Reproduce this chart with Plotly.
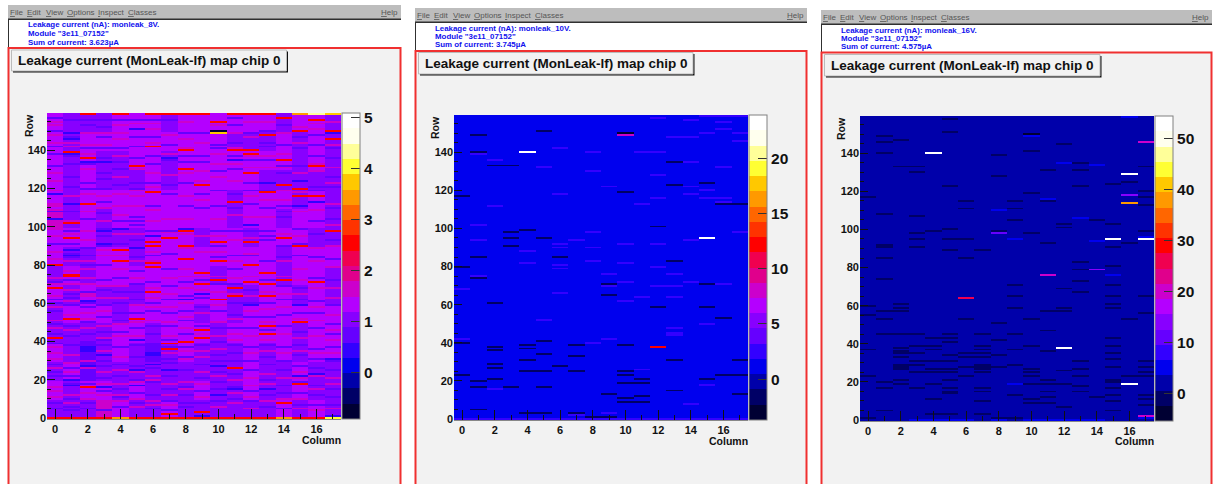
import plotly.graph_objects as go

W, H = 1214, 484
N_COLS, N_ROWS = 18, 160

TITLE = "Leakage current (MonLeak-lf) map chip 0"
MENU_ITEMS = ["<u>F</u>ile", "<u>E</u>dit", "<u>V</u>iew", "<u>O</u>ptions", "<u>I</u>nspect", "<u>C</u>lasses"]
HELP_ITEM = "<u>H</u>elp"
MODULE = 'Module "3e11_07152"'
VOLTAGES = ["monleak_8V.", "monleak_10V.", "monleak_16V."]
SUMS = ["3.623", "3.745", "4.575"]

PALETTE = ["#000033", "#000066", "#0000aa", "#0000ee", "#3300ff", "#6600ff", "#8800ff",
           "#b400ff", "#cc00cc", "#e0008c", "#f00050", "#ff0000", "#ff3300", "#ff6600",
           "#ff9900", "#ffc800", "#ffff33", "#ffff99", "#ffffee", "#ffffff"]

# ---- Panel 1 (8 V): per-column estimates over 10-row bands, top band first, then stripes
# read per column. This is an estimate of the striped texture, not an exact cell-by-cell read.
P1_BANDS = [
    [1.4,1.0,1.1,0.9,1.2,1.2,1.2,1.0,1.3,1.3,1.2,1.3,1.2,1.2,1.0,1.2,1.3,1.0],
    [1.4,1.0,1.2,1.2,1.3,1.4,1.3,1.2,1.3,1.4,1.2,1.1,1.0,1.1,1.3,1.1,1.3,1.1],
    [1.2,1.1,1.3,0.9,1.1,1.2,1.2,1.1,1.3,1.4,1.3,1.2,1.2,1.2,1.2,1.0,1.2,1.0],
    [1.3,1.0,1.2,1.0,1.1,1.1,1.3,1.1,1.2,1.3,1.3,1.2,1.3,1.1,1.0,1.1,1.1,1.0],
    [1.2,1.1,1.3,1.2,1.2,1.3,1.4,1.2,1.2,1.3,1.2,1.1,1.3,1.2,1.4,1.0,1.2,1.0],
    [1.6,1.0,1.3,1.0,1.4,1.3,1.3,1.2,1.2,1.3,1.3,1.0,1.2,1.3,1.0,1.3,1.2,1.1],
    [1.3,1.2,1.2,0.9,1.1,0.9,1.4,1.4,1.4,1.0,1.3,1.2,1.1,1.3,1.2,1.2,1.1,1.1],
    [1.3,1.0,0.9,1.3,1.2,1.1,1.3,1.2,1.2,1.2,1.2,1.2,1.3,1.2,1.1,1.3,1.3,1.2],
    [1.1,1.3,1.1,1.3,1.2,1.3,1.2,1.3,1.2,1.2,1.1,1.2,1.3,1.3,1.1,1.2,1.3,1.1],
    [1.3,1.1,1.4,1.1,1.0,0.9,1.3,1.3,1.2,1.2,1.2,1.1,1.1,1.4,1.3,1.0,1.2,1.0],
    [1.0,1.3,1.3,1.2,1.1,1.2,1.3,1.3,1.2,1.1,1.3,1.1,1.2,1.3,1.3,1.2,1.3,1.2],
    [1.0,1.0,1.1,1.1,1.2,1.2,1.1,1.3,1.3,1.2,1.1,1.2,1.3,1.2,1.3,1.0,1.3,1.2],
    [1.3,1.1,0.8,0.9,1.3,1.0,0.8,1.0,1.2,1.0,1.0,1.1,1.3,1.0,1.2,1.1,1.2,1.2],
    [1.1,1.2,0.8,1.0,1.1,1.1,1.0,0.9,1.1,1.1,0.9,1.0,1.3,1.1,1.0,1.2,1.1,1.0],
    [1.4,0.9,1.3,1.3,1.1,1.3,1.0,1.0,1.0,1.2,1.0,1.0,1.2,1.0,1.1,1.2,1.1,1.0],
    [1.1,1.1,1.1,1.5,1.2,1.1,1.0,1.2,0.9,1.0,1.1,1.0,1.1,1.0,1.3,1.0,1.2,0.9],
]
P1_VIOLET_ROWS = [
    [157,150,142,138,132,117,108,91,71,62,60,56,49,44,39,28,24,22,8,5],
    [156,149,147,137,133,126,121,112,108,98,91,86,84,72,65,63,59,48,43,38,26,22,18,10,6,4],
    [156,153,141,133,123,120,104,89,85,80,66,60,58,50,44,40,33,31,22,18,8,5],
    [156,152,147,141,136,128,125,120,113,107,99,95,90,80,72,67,59,53,45,41,38,30,27,21,14,4],
    [156,141,134,130,122,103,91,73,66,60,55,51,45,37,28,22,15,11,6],
    [156,147,142,136,123,120,105,103,101,93,89,84,77,70,66,62,55,47,38,32,27,20,13,8],
    [156,147,137,133,123,111,98,85,71,60,56,48,44,37,30,26,19,12,5],
    [156,143,135,122,117,98,86,78,69,62,55,48,41,37,31,29,22,15,9,4],
    [149,137,134,123,111,90,71,64,56,51,44,37,32,25,16,12,8,6],
    [149,137,134,117,110,72,63,58,48,38,28,21,14,8],
    [143,141,129,119,111,98,90,84,70,56,47,40,33,30,24,19,15,9],
    [157,153,144,137,130,117,110,98,85,78,70,60,54,47,38,34,30,23,16,10],
    [149,135,123,119,112,98,85,67,60,53,47,37,30,25,14,9],
    [150,144,142,135,123,119,110,98,95,93,82,72,60,53,46,38,32,28,20,12,6],
    [153,143,132,128,111,108,105,90,84,69,62,54,48,37,30,25,17,13,5],
    [147,141,132,124,111,99,91,85,68,62,55,45,38,33,27,19,13,7],
    [148,143,137,121,119,103,96,84,73,61,55,47,36,31,26,17,12,7],
    [149,141,136,126,121,110,104,93,83,72,59,49,44,37,30,25,15,11,7],
]
P1_MAGENTA_ROWS = [
    [155,153,148,144,128,124,119,112,111,104,99,95,87,83,73,70,64,58,51,47,37,34,31,26,16,14,11],
    [144,142,116,103,96,82,77,70,67,61,54,46,33,29,24,12,8],
    [149,143,138,130,117,108,98,93,82,78,73,70,65,64,55,52,47,30,26,13,10],
    [149,143,116,110,103,88,85,69,63,56,48,42,35,24,18,12],
    [153,149,146,137,126,117,111,106,96,85,78,69,63,49,43,32,25,18,12,9],
    [154,130,119,116,111,96,82,73,59,50,43,24,19,10,6],
    [154,151,144,128,121,109,103,87,82,68,63,58,51,22,20,9,7],
    [148,138,127,104,97,73,65,58,50,43,34,25,18,12,7],
    [155,146,141,128,116,104,96,89,78,74,68,60,53,47,35,31,19,15],
    [144,129,124,114,95,87,74,67,55,44,35,32,24,18,11],
    [153,138,133,126,104,95,87,74,66,59,50,43,36,22,12,6],
    [149,141,133,124,106,93,82,73,65,52,44,41,20,13,8],
    [155,147,137,131,116,105,94,86,74,64,56,43,34,21,17,11,5],
    [155,137,131,114,105,66,57,50,41,35,23,18,9],
    [149,138,131,119,114,96,82,74,65,58,44,34,21,10],
    [152,144,128,118,108,95,78,72,65,52,42,35,24,21,10,5],
    [154,151,133,129,109,89,82,68,58,51,43,34,22,15,4],
    [155,143,131,123,112,101,90,79,68,63,54,46,41,34,21,18,5],
]
P1_RED = [(2,159),(4,159),(6,159),(7,159),(8,159),(9,159),(1,139),(2,136),(6,142),(8,140),
          (5,132),(8,130),(9,122),(6,118),(2,112),(1,102),(1,94),(8,98),(7,94),(6,92),(6,90),
          (8,90),(4,88),(4,82),(8,83),(6,81),(6,79),(0,80),(1,75),(9,76),(11,159),(12,159),
          (13,159),(14,157),(16,156),(17,150),(15,150),(13,148),(17,146),(11,140),(12,140),
          (12,138),(14,135),(16,132),(12,128),(14,122),(15,120),(13,118),(15,116),(16,116),
          (11,113),(17,98),(10,92),(12,92),(14,94),(15,90),(10,82),(12,80),(13,76),(0,68),
          (1,74),(6,66),(9,70),(1,52),(5,52),(0,42),(9,42),(9,46),(8,40),(7,39),(2,16),(9,3),
          (7,2),(7,36),(10,62),(10,72),(11,68),(11,26),(11,64),(12,71),(13,70),(13,64),
          (13,76),(13,44),(13,48),(14,72),(15,50),(15,18),(16,71),(14,8),(10,155),(2,0),
          (0,0),(1,0),(3,0),(5,0),(6,0),(7,0),(8,0),(9,0),(10,0),(11,0),(12,0),(13,0),(14,0),
          (15,0),(16,0)]
P1_BLUE = [(1,149),(1,146),(5,151),(3,134),(2,134),(4,99),(3,98),(0,117),(1,112),(1,88),(1,85),
           (3,91),(5,89),(6,95),(0,104),(8,99),(7,136),(1,138),(12,101),(11,135),(15,124),
           (16,113),(13,123),(17,149),(15,111),(1,20),(1,17),(2,37),(2,36),(2,35),(2,61),
           (2,27),(3,16),(5,25),(5,41),(5,17),(6,33),(6,34),(6,28),(7,25),(8,62),(9,65),(3,33),
           (11,15),(10,27),(12,59),(15,59),(15,22),(16,23),(17,31),(13,15),(10,12)]
P1_SPECIAL = [(10,150,-0.7),(10,149,3.7),(15,159,3.4),(16,159,4.4),(17,159,3.7),(17,0,4.0),
              (4,0,3.4),(14,0,3.4),(9,1,0.4),(17,1,0.5)]

# ---- Panel 2 (10 V)
P2_DARK = [(1,149),(1,140),(2,133),(3,133),(3,98),(3,95),(3,91),(4,99),(5,151),(5,95),(6,85),
           (1,85),(1,74),(0,117),(0,80),(9,71),(10,119),(13,135),(13,123),(15,124),(12,101),
           (13,83),(15,71),(16,113),(17,113),(2,61),(12,59),(15,59),(16,53),(9,65),(5,41),
           (0,40),(2,38),(2,36),(4,39),(4,37),(7,39),(10,39),(5,34),(7,33),(4,31),(13,31),
           (17,31),(2,29),(2,27),(6,28),(4,25),(5,25),(7,25),(10,25),(0,23),(10,23),(2,21),
           (11,21),(15,21),(16,23),(17,23),(1,20),(1,17),(3,17),(5,17),(10,19),(11,19),(13,15),
           (9,13),(17,13),(10,11),(11,12),(10,9),(11,9),(1,5),(4,3),(5,3),(7,3),(8,1),(9,1)]
P2_FAINT = [(2,136),(1,139),(5,132),(6,142),(8,140),(8,130),(9,122),(6,118),(2,112),(1,102),
            (1,94),(6,92),(6,90),(7,94),(8,98),(8,90),(4,88),(4,82),(6,81),(6,79),(8,83),
            (10,92),(10,82),(12,92),(12,80),(14,94),(17,98),(9,76),(10,72),(13,76),(1,75),
            (14,72),(16,71),(12,70),(13,70),(9,70),(0,68),(12,158),(14,157),(16,156),(16,152),
            (15,150),(17,150),(17,146),(13,148),(14,148),(11,140),(12,140),(14,135),(16,132),
            (12,128),(14,122),(15,120),(12,116),(14,118),(15,116),(16,116),(16,114),(11,113),
            (15,159),(16,159),(17,159),(6,66),(10,62),(11,64),(13,64),(5,52),(13,48),(15,50),
            (9,42),(13,44),(13,45),(0,42),(8,40),(11,26),(15,18),(2,16),(14,8),(9,3),(7,2),
            (3,0),(4,0),(5,0),(6,0),(7,0),(8,0),(9,0),(10,0),(11,0),(12,0),(13,0),(14,0),(15,0),
            (16,0),(17,0),(0,0),(1,0),(2,0)]
P2_SPECIAL = [(4,140,23.0),(15,95,23.0),(10,149,8.0),(10,150,-3.0),(12,38,12.0)]

# ---- Panel 3 (16 V)
P3_DARK = [(5,158),(1,149),(1,146),(2,147),(1,140),(5,151),(10,141),(12,145),(2,133),(3,133),
           (3,130),(8,139),(8,128),(11,131),(13,135),(13,131),(17,133),(15,124),(16,125),
           (13,123),(5,123),(0,117),(6,115),(6,111),(9,115),(9,111),(9,105),(10,119),(11,115),
           (17,120),(17,117),(17,113),(1,108),(3,107),(3,98),(4,99),(5,100),(3,95),(5,95),
           (6,95),(3,91),(1,92),(1,91),(5,89),(7,89),(6,85),(1,85),(8,99),(10,98),(11,93),
           (12,103),(12,101),(14,105),(15,103),(15,91),(16,93),(17,99),(13,83),(13,79),(15,81),
           (13,73),(15,71),(9,71),(12,69),(1,74),(9,65),(15,65),(17,65),(13,67),(0,60),(2,61),
           (2,59),(9,59),(12,59),(15,61),(15,59),(1,57),(2,57),(11,57),(12,57),(0,55),(17,56),
           (1,53),(6,53),(10,53),(16,53),(8,51),(11,47),(1,45),(2,45),(3,45),(5,45),(7,45),
           (9,45),(4,43),(5,43),(5,41),(7,39),(3,39),(4,39),(8,42),(10,39),(15,43),(15,39),
           (0,37),(4,37),(7,37),(9,37),(2,38),(2,36),(2,35),(11,36),(3,35),(6,35),(7,35),(15,35),
           (5,34),(8,34),(2,33),(6,33),(7,33),(15,32),(3,31),(4,31),(5,31),(13,31),(17,31),
           (3,29),(9,29),(2,29),(2,28),(2,27),(6,28),(7,28),(7,29),(7,27),(8,28),(15,28),(17,28),
           (4,27),(5,27),(10,27),(13,27),(12,26),(3,25),(4,25),(5,25),(7,25),(10,25),(17,25),
           (0,23),(6,23),(10,23),(13,23),(16,23),(17,23),(5,21),(2,21),(11,21),(15,21),(15,20),
           (1,20),(2,19),(4,19),(10,19),(11,19),(12,19),(13,18),(1,17),(3,17),(5,17),(7,17),
           (15,17),(5,15),(5,14),(7,15),(11,15),(13,15),(9,13),(15,13),(17,13),(11,12),(14,12),
           (4,11),(10,11),(17,11),(7,10),(15,10),(10,9),(11,9),(17,8),(12,7),(1,5),(15,5),(4,3),
           (5,3),(7,3),(0,1),(8,1),(9,1)]
P3_BLUE = [(16,159),(10,149),(12,135),(14,134),(11,116),(8,110),(13,106),(9,95),(14,94),(15,76),
           (17,96),(9,19),(3,0),(4,0),(5,0),(6,0),(8,0),(10,0),(11,0),(12,0),(13,0),(14,0),(17,1)]
P3_SPECIAL = [(4,140,53.0),(16,129,53.0),(15,95,53.0),(17,95,53.0),(12,38,53.0),(16,19,53.0),
              (10,150,-4.0),(16,118,14.0),(8,98,11.0),(14,79,14.0),(17,146,20.0),(11,76,20.0),
              (16,114,38.0),(6,64,26.0),(17,2,20.0)]

ZRANGES = [(-0.92, 5.08), (-3.7, 23.9), (-5.3, 54.5)]
COLORBAR_TICKS = [[0, 1, 2, 3, 4, 5], [0, 5, 10, 15, 20], [0, 10, 20, 30, 40, 50]]
X_TICKS = [0, 2, 4, 6, 8, 10, 12, 14, 16]
Y_TICKS = [0, 20, 40, 60, 80, 100, 120, 140]
BASES = [None, 1.2, 2.0]


def grid(base):
    return [[base] * N_COLS for _ in range(N_ROWS)]


def put(z, cells, value):
    for c, r in cells:
        z[r][c] = value


z1 = [[P1_BANDS[15 - r // 10][c] for c in range(N_COLS)] for r in range(N_ROWS)]
for c, rows in enumerate(P1_VIOLET_ROWS):
    put(z1, [(c, r) for r in rows], 0.8)
for c, rows in enumerate(P1_MAGENTA_ROWS):
    put(z1, [(c, r) for r in rows], 1.65)
put(z1, P1_BLUE, 0.45)
put(z1, P1_RED, 2.5)
for c, r, v in P1_SPECIAL:
    z1[r][c] = v

z2 = grid(BASES[1])
put(z2, P2_FAINT, 2.5)
put(z2, P2_DARK, -1.5)
for c, r, v in P2_SPECIAL:
    z2[r][c] = v

z3 = grid(BASES[2])
put(z3, P3_BLUE, 5.0)
put(z3, P3_DARK, -1.0)
for c, r, v in P3_SPECIAL:
    z3[r][c] = v

MAPS = [z1, z2, z3]

# pixel layout of each window
PANELS = [
    dict(win=(8, 401), menu=(5, 19), head=(20, 48), frame=48, box=(11.5, 286.5, 50, 71),
         hx=27.5, hy=(25, 34, 42), plot=(47, 341, 113, 419), cb=(342, 360), row_x=29, col_y=440),
    dict(win=(415, 807), menu=(8, 22), head=(23, 51), frame=51, box=(418.5, 693, 52.5, 74),
         hx=434.5, hy=(28, 36.7, 45), plot=(454, 748, 115, 420), cb=(749, 767), row_x=435, col_y=441),
    dict(win=(821, 1212), menu=(10, 24), head=(25, 52), frame=52.5, box=(824.5, 1100, 54.5, 76),
         hx=840.5, hy=(30, 38.7, 46.7), plot=(860, 1154, 116, 421), cb=(1155, 1173), row_x=841, col_y=441),
]


def px(x):
    return x / W


def py(y):
    return 1 - y / H


FONT = "Liberation Sans"
PAD = 2  # annotation text inset
fig = go.Figure()
shapes, annotations = [], []


def rect(x0, x1, y0, y1, fill=None, line=None, lw=1):
    shapes.append(dict(type="rect", xref="paper", yref="paper", x0=px(x0), x1=px(x1),
                       y0=py(y1), y1=py(y0), fillcolor=fill or "rgba(0,0,0,0)",
                       line=dict(color=line or "rgba(0,0,0,0)", width=lw if line else 0),
                       layer="below"))


def text(x, y, s, size, color, weight=400, anchor="left", angle=0):
    xx = x - PAD if anchor == "left" else x + PAD if anchor == "right" else x
    annotations.append(dict(xref="paper", yref="paper", x=px(xx), y=py(y), text=s, showarrow=False,
                            xanchor=anchor, yanchor="middle", textangle=angle,
                            font=dict(family=FONT, size=size, color=color, weight=weight)))


for i, p in enumerate(PANELS):
    ax = "" if i == 0 else str(i + 1)
    wx0, wx1 = p["win"]
    x0, x1, y0, y1 = p["plot"]
    # window chrome
    rect(wx0, wx1, p["menu"][0], p["menu"][1], fill="#bdbdbd")
    rect(wx0, wx1, p["menu"][1] - 0.5, p["menu"][1] + 1, fill="#303030")
    rect(wx0 + 1, wx1, p["head"][0], p["head"][1], fill="#ffffff")
    rect(wx0, wx0 + 1, p["head"][0], p["head"][1], fill="#303030")
    rect(wx0 + 0.5, wx1 - 0.5, p["frame"], H + 5, fill="#f2f2f2", line="#f03030", lw=2)
    # title box with shadow
    bx0, bx1, by0, by1 = p["box"]
    rect(bx0 + 1.5, bx1 + 1.5, by0 + 1.5, by1 + 1.5, fill="#111111")
    rect(bx0, bx1, by0, by1, fill="#f2f2f2", line="#bbbbbb", lw=1)
    text(bx0 + 6.5, (by0 + by1) / 2, TITLE, 13.5, "#111111", 700)
    # menu
    mx = [wx0 + 1.5, wx0 + 19, wx0 + 37.5, wx0 + 59, wx0 + 90, wx0 + 119.5]
    for m, s in zip(mx, MENU_ITEMS):
        text(m, (p["menu"][0] + p["menu"][1]) / 2 + 0.5, s, 8, "#555555")
    text(wx1 - 3, (p["menu"][0] + p["menu"][1]) / 2 + 0.5, HELP_ITEM, 8, "#555555", anchor="right")
    # header lines
    lines = ["Leakage current (nA): " + VOLTAGES[i], MODULE, "Sum of current: " + SUMS[i] + "µA"]
    for y, s in zip(p["hy"], lines):
        text(p["hx"], y, s, 7.9, "#1010ee", 700)
    # axis titles
    text(x1, p["col_y"], "Column", 10.5, "#111111", 700, anchor="right")
    text(p["row_x"], y0 + 13, "Row", 10.5, "#111111", 700, anchor="center", angle=-90)

    zmin, zmax = ZRANGES[i]
    n = len(PALETTE)
    scale = []
    for k, c in enumerate(PALETTE):
        scale += [[k / n, c], [(k + 1) / n, c]]
    fig.add_trace(go.Heatmap(
        z=MAPS[i], x=list(range(N_COLS)), y=list(range(N_ROWS)), zmin=zmin, zmax=zmax,
        colorscale=scale, xaxis="x" + ax, yaxis="y" + ax, hoverinfo="skip",
        colorbar=dict(
            x=px(p["cb"][0]), xanchor="left", xref="paper",
            y=py(y1), yanchor="bottom", yref="paper",
            len=(y1 - y0) / H, lenmode="fraction", thickness=p["cb"][1] - p["cb"][0],
            thicknessmode="pixels", xpad=0, ypad=0, outlinecolor="#808080", outlinewidth=1,
            tickmode="array", tickvals=COLORBAR_TICKS[i], ticks="inside", ticklen=9,
            tickcolor="#333333", tickwidth=1, ticklabelposition="outside",
            tickfont=dict(family=FONT, size=15.5, color="#111111", weight=700),
        ),
    ))
    common = dict(showgrid=False, zeroline=False, anchor="y" + ax, ticks="inside",
                  tickcolor="#111111", tickwidth=1,
                  tickfont=dict(family=FONT, size=11, color="#111111", weight=700))
    xa = dict(common, domain=[px(x0), px(x1)], range=[-0.5, 17.5], tickmode="array",
              tickvals=X_TICKS, ticklen=10, showline=True, linecolor="#888888", linewidth=1,
              minor=dict(ticks="inside", dtick=1, tick0=0, ticklen=5, tickcolor="#111111", tickwidth=1))
    ya = dict(common, anchor="x" + ax, domain=[py(y1), py(y0)], range=[-0.5, 159.5],
              tickmode="array", tickvals=Y_TICKS, ticklen=8,
              minor=dict(ticks="inside", dtick=5, tick0=0, ticklen=4, tickcolor="#111111", tickwidth=1))
    fig.update_layout({"xaxis" + ax: xa, "yaxis" + ax: ya})

fig.update_layout(width=W, height=H, margin=dict(l=0, r=0, t=0, b=0, pad=0, autoexpand=False),
                  autosize=False, paper_bgcolor="#ffffff", plot_bgcolor="#ffffff", showlegend=False,
                  shapes=shapes, annotations=annotations)
fig.write_html("out.html", config=dict(displayModeBar=False),
               post_script="document.body.style.margin='0';document.body.style.overflow='hidden';")
